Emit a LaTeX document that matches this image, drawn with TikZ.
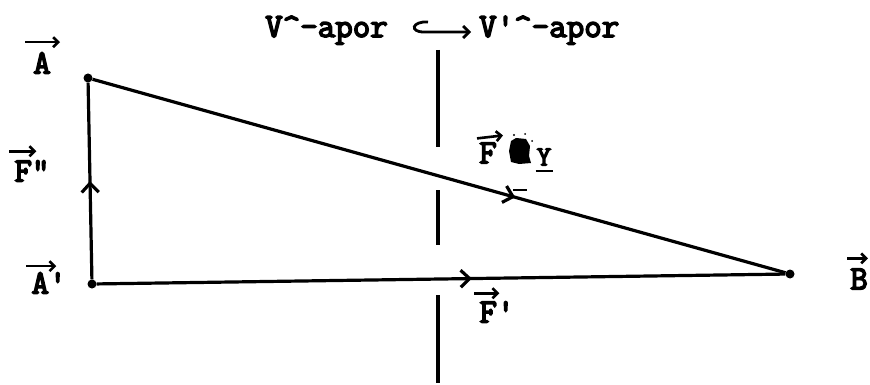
\documentclass[tikz,border=0pt]{standalone}
\usepackage{fontspec}
\newfontfamily\twfont{Latin Modern Mono}[FakeBold=4.5]
\usetikzlibrary{arrows.meta,decorations.markings,calc}
\begin{document}
\begin{tikzpicture}[x=1pt,y=-1pt,
  font=\twfont\fontsize{34}{36}\selectfont,
  edge/.style={line width=3.2pt},
  dot/.style={circle,fill,inner sep=0pt,minimum size=9pt},
  lbl/.style={inner sep=0pt},
  vecarr/.style={line width=2.6pt,-{Straight Barb[length=5pt,width=10pt]}},
  midarrow/.style={postaction={decorate},decoration={markings,
     mark=at position #1 with {\arrow{Straight Barb[length=9pt,width=17pt]}}}}]
\useasboundingbox (0,0) rectangle (870,385);

% top text
\node[lbl,anchor=base east] (vl) at (388,37) {V\textasciicircum-apor};
\node[lbl,anchor=base west] (vr) at (479,37) {V\textquotesingle\textasciicircum-apor};
\coordinate (hs) at (428,22);
\coordinate (he) at (471,32);
\draw[line width=2.8pt,-{Straight Barb[length=6pt,width=12pt]}]
  (hs) .. controls (412,21) and (409,32) .. (424,32) -- (he);

% vertical dashed line
\draw[edge] (438,50) -- (438,147);
\draw[edge] (438,190) -- (438,245);
\draw[edge] (438,295) -- (438,383);

% points
\node[dot] (A) at (88,78) {};
\node[dot] (A1) at (92,284) {};
\node[dot] (B) at (790,274) {};

\draw[edge,midarrow=0.5] (A1) -- (A);
\draw[edge,midarrow=0.545] (A1) -- (B);
\draw[edge,midarrow=0.61] (A) -- (B);

% labels
\node[lbl] (lA) at (42,63) {A};
\node[lbl] (lF2) at (32,171) {F\textquotedbl};
\node[lbl] (lA1) at (49,283) {A\textquotesingle};
\node[lbl] (lB) at (859,279) {B};
\node[lbl] (lF) at (488,153) {F};
\node[lbl] (lF1) at (497,312) {F\textquotesingle};
\node[lbl,font=\twfont\fontsize{28}{30}\selectfont] (lY) at (544,157) {Y};

\draw[vecarr] ($(lA.north)+(-17,-10)$) -- ($(lA.north)+(18,-10)$);
\draw[vecarr] ($(lF2.north west)+(-5,-9)$) -- ($(lF2.north west)+(22,-9)$);
\draw[vecarr] ($(lA1.north west)+(-5,-6)$) -- ($(lA1.north west)+(25,-6)$);
\draw[vecarr] ($(lB.north)+(-12,-10)$) -- ($(lB.north)+(9,-10)$);
\draw[vecarr] ($(lF.north)+(-11,-4)$) -- ($(lF.north)+(15,-7)$);
\draw[vecarr] ($(lF1.north west)+(-5,-8)$) -- ($(lF1.north west)+(20,-8)$);

% blot and marks
\fill (511,141) -- (516,138) -- (526,139) -- (530,146) -- (529,156) -- (531,163) -- (519,164) -- (511,162) -- (509,151) -- cycle;
\fill (514,135) circle (1.2pt) (525,134) circle (1pt) (532,141) circle (1pt);
\draw[line width=2pt] ($(lY.south west)+(-1,5)$) -- ($(lY.south east)+(2,5)$);
\draw[line width=1.6pt] (513,190) -- (527,190);
\end{tikzpicture}
\end{document}
